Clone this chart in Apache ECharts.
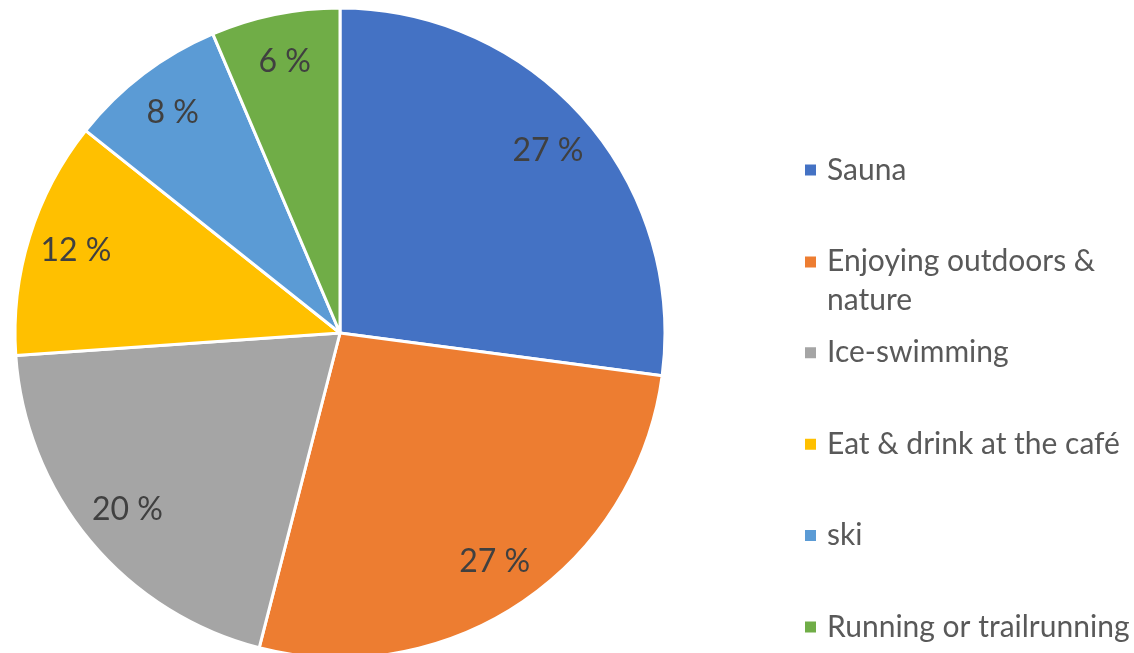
<!DOCTYPE html>
<html>
<head>
<meta charset="utf-8">
<script src="https://cdn.jsdelivr.net/npm/echarts@6/dist/echarts.min.js"></script>
<style>
  html, body { margin: 0; padding: 0; background: #fff; }
  #chart { width: 1134px; height: 653px; }
</style>
</head>
<body>
<div id="chart"></div>
<script>
const activities = ['Sauna', 'Enjoying outdoors & nature', 'Ice-swimming', 'Eat & drink at the café', 'ski', 'Running or trailrunning']
const shares = [27.1, 26.9, 19.9, 11.8, 7.9, 6.4]
const colors = ['#4472C4', '#ED7D31', '#A5A5A5', '#FFC000', '#5B9BD5', '#70AD47']

const font = 'Lato'
const chart = echarts.init(document.getElementById('chart'))

const pieData = activities.map((name, i) => ({ name: name, value: shares[i] }))

// legend entries sit in fixed slots like the office one; the long entry
// wraps with its icon level with the first line
const slotTop = 170
const slotStep = 91.4
const lineH = 38
const legendFont = { fontFamily: font, fontSize: 30, color: '#595959' }

function wraps(name) {
    return name.indexOf(' nature') > -1
}

const legends = activities.map((name, i) => ({
    orient: 'vertical',
    left: 803,
    top: slotTop + i * slotStep - (wraps(name) ? lineH : lineH / 2),
    padding: 0,
    itemWidth: 13,
    itemHeight: 13,
    icon: 'rect',
    selectedMode: false,
    textStyle: Object.assign({
        lineHeight: lineH,
        padding: [0, 0, 0, 5],
        rich: {
            a: Object.assign({ lineHeight: lineH * 2 }, legendFont),
            b: Object.assign({ lineHeight: 1 }, legendFont)
        }
    }, legendFont),
    formatter: n => wraps(n) ? '{a|' + n.replace(' nature', '') + '}\n{b|nature}' : n,
    data: [name]
}))

chart.setOption({
    color: colors,
    animation: false,
    legend: legends,
    series: [{
        type: 'pie',
        center: [340, 333],
        radius: [0, 325],
        startAngle: 90,
        clockwise: true,
        silent: true,
        label: { show: false },
        labelLine: { show: false },
        itemStyle: { borderColor: '#fff', borderWidth: 3 },
        data: pieData
    }, {
        // transparent ring, only used to place the percent labels near the rim
        type: 'pie',
        center: [340, 333],
        radius: [222, 325],
        startAngle: 90,
        clockwise: true,
        silent: true,
        itemStyle: { color: 'transparent' },
        labelLine: { show: false },
        label: {
            show: true,
            position: 'inside',
            fontFamily: font,
            fontSize: 32,
            color: '#404040',
            formatter: p => Math.round(p.percent) + ' %'
        },
        data: pieData
    }]
})
</script>
</body>
</html>
